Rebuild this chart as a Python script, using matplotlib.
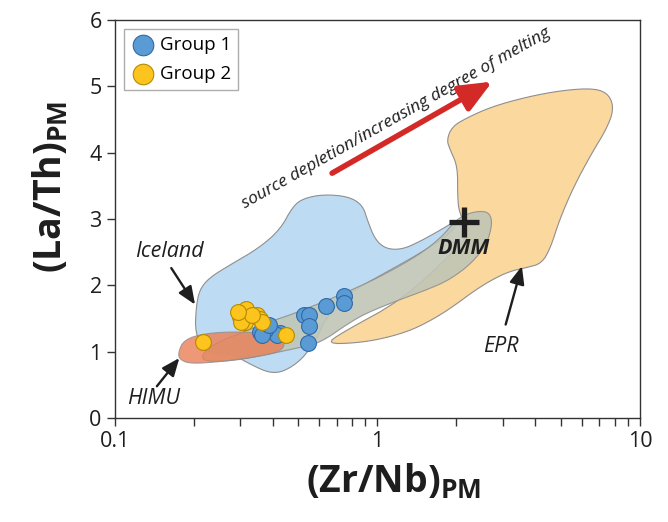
import matplotlib.pyplot as plt
import numpy as np

plt.rcParams['font.family'] = ['Open Sans', 'DejaVu Sans']
plt.rcParams['mathtext.fontset'] = 'custom'
plt.rcParams['mathtext.rm'] = 'Open Sans'
plt.rcParams['mathtext.bf'] = 'Open Sans:bold'

# sample data  (Zr/Nb)PM , (La/Th)PM
g1_zrnb = [0.524, 0.551, 0.551, 0.544, 0.639, 0.749, 0.745, 0.426, 0.414, 0.358, 0.374, 0.363, 0.385]
g1_lath = [1.55, 1.55, 1.39, 1.13, 1.69, 1.84, 1.73, 1.28, 1.25, 1.30, 1.33, 1.25, 1.40]

g2_zrnb = [0.217, 0.315, 0.313, 0.300, 0.303, 0.347, 0.358, 0.363, 0.332, 0.448, 0.295]
g2_lath = [1.15, 1.65, 1.45, 1.53, 1.45, 1.55, 1.50, 1.45, 1.55, 1.25, 1.60]

# fields
iceland_zrnb = [0.202, 0.204, 0.210, 0.228, 0.275, 0.353, 0.426, 0.476, 0.523, 0.622, 0.774, 0.878,
                0.920, 0.980, 1.077, 1.24, 1.45, 1.75, 2.02, 1.92, 1.45, 1.06, 0.774, 0.641,
                0.584, 0.515, 0.440, 0.388, 0.332, 0.284, 0.221]
iceland_lath = [1.28, 1.68, 1.93, 2.11, 2.31, 2.56, 2.84, 3.19, 3.31, 3.37, 3.34, 3.21,
                2.96, 2.69, 2.55, 2.54, 2.66, 2.84, 2.99, 2.79, 2.48, 2.18, 1.88, 1.53,
                1.18, 0.88, 0.70, 0.68, 0.80, 0.95, 0.98]

dmm_field_zrnb = [0.213, 0.241, 0.323, 0.388, 0.501, 0.799, 1.059, 1.441, 1.749, 1.996, 2.238, 2.488,
                  2.669, 2.741, 2.622, 2.298, 1.877, 1.533, 1.208, 0.904, 0.778, 0.603, 0.501,
                  0.303, 0.221]
dmm_field_lath = [0.95, 1.13, 1.33, 1.45, 1.60, 1.93, 2.16, 2.46, 2.72, 2.99, 3.09, 3.12,
                  3.09, 2.94, 2.64, 2.34, 2.08, 1.93, 1.78, 1.58, 1.43, 1.13, 1.06,
                  0.875, 0.845]

epr_zrnb = [1.836, 1.925, 2.182, 2.718, 3.72, 5.09, 6.75, 7.66, 7.95, 7.42, 6.55, 5.60, 4.94,
            4.56, 4.22, 3.72, 3.18, 2.718, 2.323, 1.986, 1.697, 1.362, 1.060, 0.824, 0.641,
            0.727, 1.24, 1.925, 2.251, 2.049, 2.02, 2.02, 1.894]
epr_lath = [4.19, 4.39, 4.52, 4.69, 4.84, 4.94, 4.97, 4.87, 4.64, 4.34, 3.99, 3.49, 2.99,
            2.56, 2.33, 2.27, 2.21, 2.08, 1.91, 1.71, 1.53, 1.33, 1.20, 1.13, 1.12,
            1.28, 1.78, 2.48, 2.79, 3.09, 3.34, 3.79, 4.04]

himu_zrnb = [0.174, 0.183, 0.221, 0.302, 0.413, 0.447, 0.426, 0.353, 0.258, 0.1945, 0.177]
himu_lath = [0.98, 1.18, 1.28, 1.305, 1.255, 1.13, 1.00, 0.93, 0.853, 0.818, 0.879]

dmm_point = (2.13, 2.96)


def rounded(xs, ys, n=2):
    # round off the outline corners (Chaikin), working in log-x
    p = np.column_stack([np.log10(xs), ys])
    for _ in range(n):
        q = np.roll(p, -1, axis=0)
        p = np.column_stack([0.75 * p + 0.25 * q, 0.25 * p + 0.75 * q]).reshape(-1, 2)
    return 10 ** p[:, 0], p[:, 1]


fig, ax = plt.subplots(figsize=(6.68, 5.22), dpi=100)
fig.subplots_adjust(left=0.172, right=0.958, top=0.962, bottom=0.199)

edge = '#8f8f8f'
ax.fill(*rounded(epr_zrnb, epr_lath), facecolor='#fbd89e', edgecolor=edge, lw=0.8, zorder=1)
ax.fill(*rounded(iceland_zrnb, iceland_lath), facecolor='#bddbf2', edgecolor=edge, lw=0.8, zorder=2)
ax.fill(*rounded(dmm_field_zrnb, dmm_field_lath), facecolor='#c0c6b6', edgecolor=edge, lw=0.8,
        alpha=0.9, zorder=3)
ax.fill(*rounded(himu_zrnb, himu_lath), facecolor='#ec7f56', edgecolor=edge, lw=0.8, alpha=0.8, zorder=4)

ax.scatter(g1_zrnb, g1_lath, s=130, c='#5b9bd5', edgecolors='#2f6aa6', linewidths=0.8, zorder=5, label='Group 1')
ax.scatter(g2_zrnb, g2_lath, s=130, c='#fcc41d', edgecolors='#b58b00', linewidths=0.8, zorder=6, label='Group 2')

ink = '#1e1e1e'
# DMM
ax.plot(*dmm_point, marker='+', ms=21, mew=3.8, color=ink, zorder=7)
ax.text(dmm_point[0], 2.55, 'DMM', fontsize=15.5, fontweight='bold', style='italic',
        ha='center', va='center', color=ink, zorder=7)

# labels with arrows
arr = dict(arrowstyle='-|>,head_length=0.6,head_width=0.25', color=ink, lw=1.7,
           mutation_scale=18, shrinkA=0, shrinkB=0)
ax.text(0.161, 2.51, 'Iceland', fontsize=15.5, style='italic', ha='center', va='center', color=ink)
ax.annotate('', xy=(0.202, 1.71), xytext=(0.164, 2.26), arrowprops=arr, zorder=8)
ax.text(0.140, 0.30, 'HIMU', fontsize=15.5, style='italic', ha='center', va='center', color=ink)
ax.annotate('', xy=(0.176, 0.905), xytext=(0.1445, 0.48), arrowprops=arr, zorder=8)
ax.text(2.94, 1.08, 'EPR', fontsize=15.5, style='italic', ha='center', va='center', color=ink)
ax.annotate('', xy=(3.55, 2.29), xytext=(3.08, 1.41), arrowprops=arr, zorder=8)

# red trend arrow
ax.annotate('', xy=(2.74, 5.07), xytext=(0.672, 3.69),
            arrowprops=dict(arrowstyle='-|>,head_length=0.7,head_width=0.3', color='#d42a27', lw=4,
                            mutation_scale=28, shrinkA=0, shrinkB=0), zorder=8)
ax.text(0.318, 3.1, 'source depletion/increasing degree of melting', fontsize=12.6,
        style='italic', rotation=29.5, rotation_mode='anchor', ha='left', va='bottom', color=ink)

ax.set_xscale('log')
ax.set_xlim(0.1, 10)
ax.set_ylim(0, 6)
ax.set_xticks([0.1, 1, 10])
ax.set_xticklabels(['0.1', '1', '10'])
ax.set_yticks(range(7))
ax.tick_params(axis='both', which='major', labelsize=15.5, length=6, width=1, direction='out',
               colors='#333333', labelcolor=ink)
ax.tick_params(axis='x', which='minor', length=6, width=1, direction='out', colors='#333333')
for s in ax.spines.values():
    s.set_color('#333333')
    s.set_linewidth(1)

ax.set_xlabel(r'$\mathbf{(Zr/Nb)_{PM}}$', fontsize=27, color=ink)
ax.set_ylabel(r'$\mathbf{(La/Th)_{PM}}$', fontsize=27, color=ink)
ax.xaxis.set_label_coords(0.53, -0.112)
ax.yaxis.set_label_coords(-0.085, 0.58)

leg = ax.legend(loc='upper left', fontsize=13.5, frameon=True, fancybox=False, handletextpad=0.25,
                borderpad=0.35, labelspacing=0.6, handlelength=1.3, markerscale=1.3,
                borderaxespad=0.5)
leg.get_frame().set_edgecolor('#999999')
leg.get_frame().set_linewidth(1)

fig.savefig('out.png', dpi=100)
